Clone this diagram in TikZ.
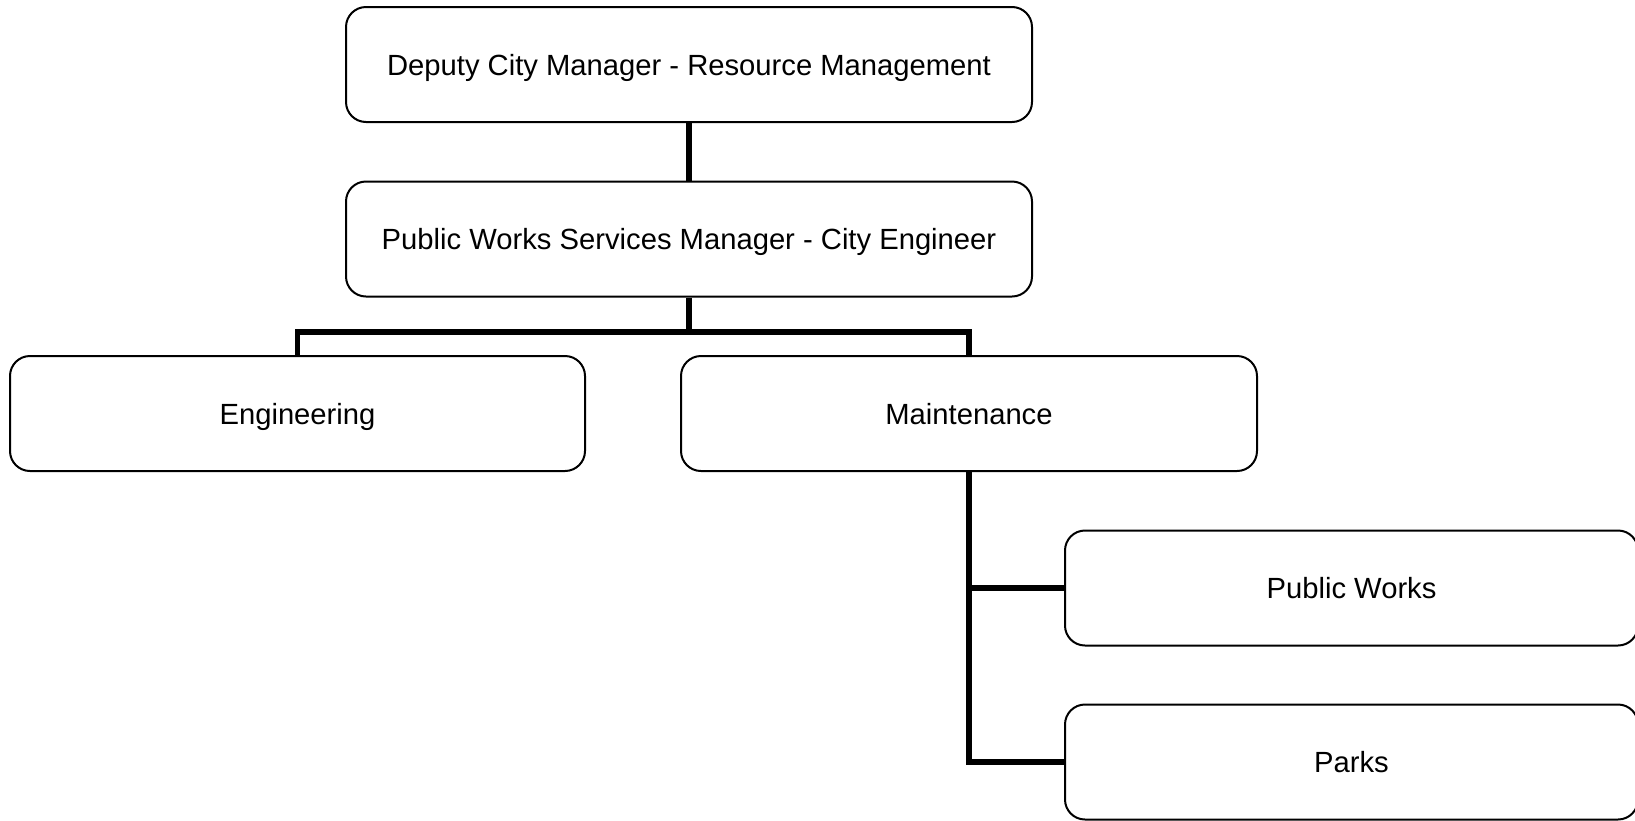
\documentclass[tikz,border=0pt]{standalone}
\usepackage{fontspec}
\setmainfont{Liberation Sans}
\begin{document}
\begin{tikzpicture}[x=1pt,y=-1pt,
  orgbox/.style={draw=black, line width=2pt, rounded corners=20pt, fill=white,
    minimum width=#1, minimum height=115pt, inner sep=0pt,
    text height=21pt, text depth=-1pt,
    font=\fontsize{29.2}{35}\selectfont},
  link/.style={draw=black, line width=5.5pt, line join=miter}]
  \useasboundingbox (0,0) rectangle (1635,820);
  \clip (0,0) rectangle (1635,820);

  % boxes
  \node[orgbox=686pt] (dcm)   at (689,64.5)   {Deputy City Manager - Resource Management};
  \node[orgbox=686pt] (pwsm)  at (689,239)    {Public Works Services Manager - City Engineer};
  \node[orgbox=575pt] (eng)   at (297.5,413.5) {Engineering};
  \node[orgbox=576pt] (maint) at (969,413.5)  {Maintenance};
  \node[orgbox=573pt] (pw)    at (1351.5,588) {Public Works};
  \node[orgbox=573pt] (parks) at (1351.5,762) {Parks};

  % reporting lines
  \coordinate (bar) at (689,332);
  \draw[link] (dcm.south) -- (pwsm.north);
  \draw[link] (pwsm.south) -- (bar);
  \draw[link] (eng.north) |- (bar) -| (maint.north);
  \draw[link] (maint.south) |- (parks.west);
  \draw[link] (maint.south |- pw.west) -- (pw.west);
\end{tikzpicture}
\end{document}
